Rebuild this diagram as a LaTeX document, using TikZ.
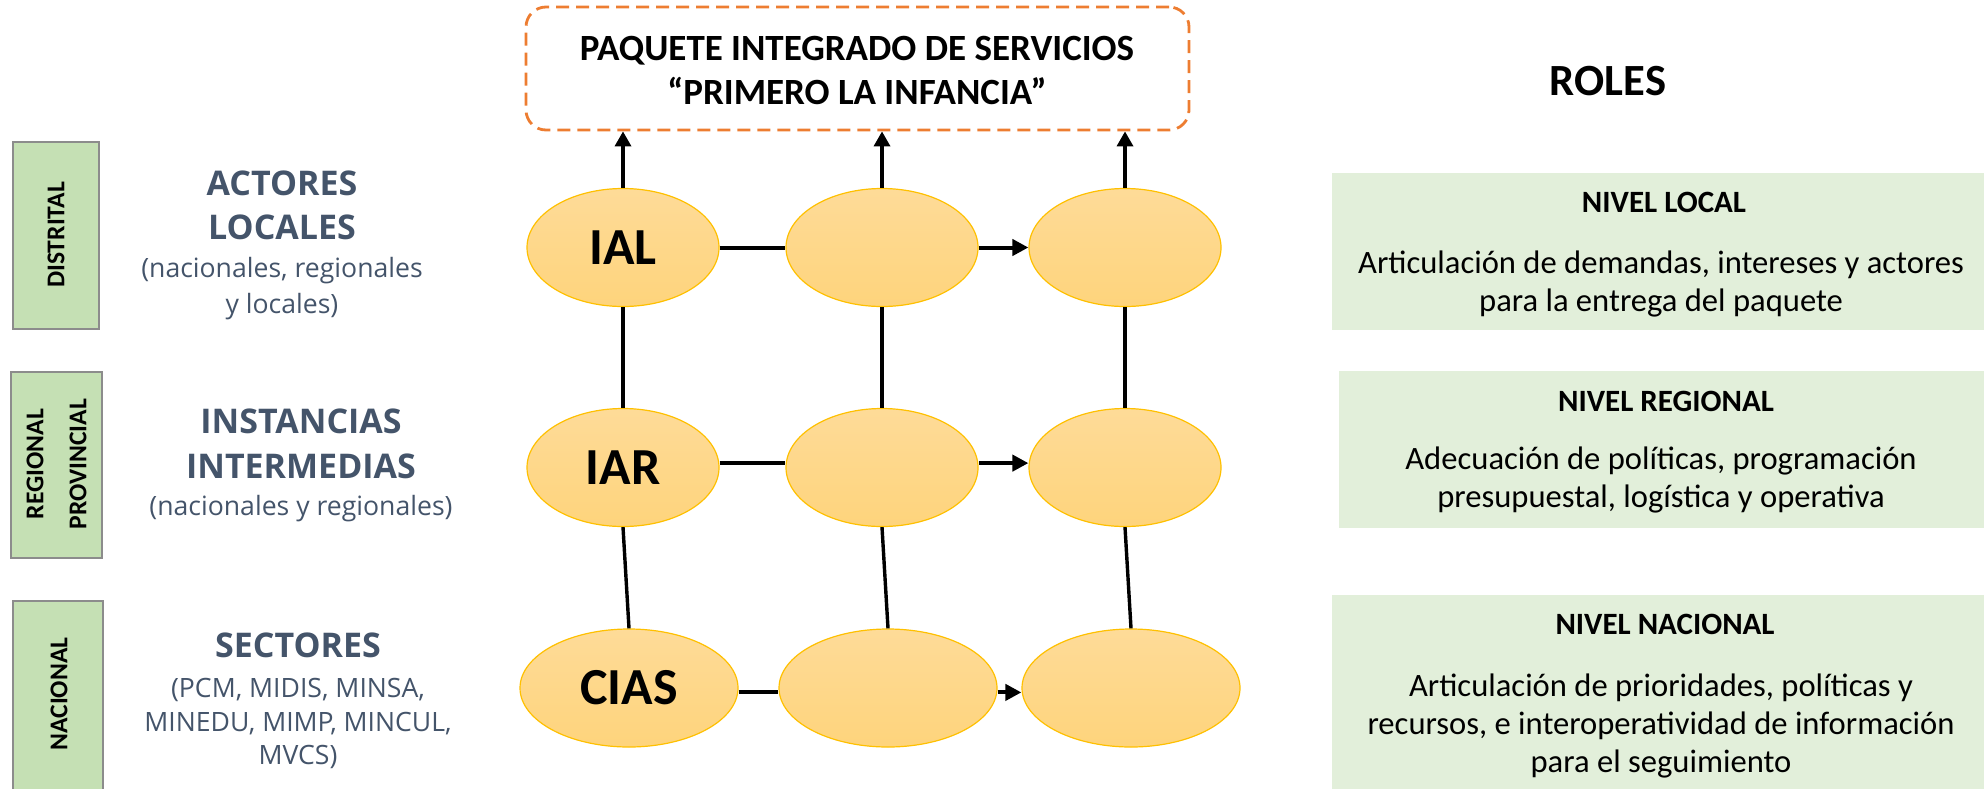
\documentclass[tikz,border=0pt]{standalone}
\usepackage{fontspec}
\setmainfont{Carlito}
\newfontfamily\osans{Open Sans}
\usetikzlibrary{shapes.geometric,arrows.meta}
\definecolor{slate}{HTML}{44546A}
\definecolor{lgreen}{HTML}{C5E0B4}
\definecolor{pgreen}{HTML}{E2EFDA}
\definecolor{orng}{HTML}{ED7D31}
\definecolor{ellb}{HTML}{FFC000}
\definecolor{elltop}{HTML}{FEDB98}
\definecolor{ellbot}{HTML}{FED47C}
\definecolor{lboxdraw}{HTML}{8C8C8C}
\begin{document}
\begin{tikzpicture}[x=0.5pt,y=-0.5pt,
  oval/.style={ellipse, draw=ellb, line width=0.6pt, top color=elltop, bottom color=ellbot,
    minimum width=96pt, minimum height=59pt, inner sep=0pt, font=\fontsize{26}{30}\selectfont\bfseries},
  wideoval/.style={oval, minimum width=109pt},
  conn/.style={line width=1.7pt},
  hconn/.style={line width=2pt},
  harrow/.style={hconn, -{Triangle[length=8pt,width=8pt]}},
  varrow/.style={conn, -{Triangle[length=7.5pt,width=8pt]}},
  levelbox/.style={draw=lboxdraw, line width=0.8pt, fill=lgreen},
  rolebox/.style={fill=pgreen},
  vlabel/.style={rotate=90, inner sep=0pt, font=\fontsize{12.8}{15}\selectfont\bfseries},
  acthead/.style={anchor=base, inner sep=0pt, text=slate, font=\osans\fontsize{17}{20}\selectfont\bfseries},
  actsub/.style={anchor=base, inner sep=0pt, text=slate, font=\osans\fontsize{13.3}{16}\selectfont},
  pkgbox/.style={draw=orng, line width=1.4pt, dash pattern=on 6.5pt off 3.5pt, rounded corners=10pt,
    minimum width=331.5pt, minimum height=61.5pt, inner sep=0pt},
  pkgtxt/.style={anchor=base, inner sep=0pt, font=\fontsize{18.5}{22}\selectfont\bfseries},
  rolehead/.style={anchor=base, inner sep=0pt, font=\fontsize{15.5}{18}\selectfont\bfseries},
  roletxt/.style={anchor=base, inner sep=0pt, font=\fontsize{16.3}{19}\selectfont},
  rolestitle/.style={anchor=base, inner sep=0pt, font=\fontsize{22.3}{26}\selectfont\bfseries}
]
\useasboundingbox (0,0) rectangle (1984,788);
\clip (0,0) rectangle (1984,788);

% left level boxes
\draw[levelbox] (13,142) rectangle (99,329);
\draw[levelbox] (11,372) rectangle (102,558);
\draw[levelbox] (13,601) rectangle (103,800);
\node[vlabel] (distrital) at (56,235) {DISTRITAL};
\node[vlabel] (regional) at (35,464) {REGIONAL};
\node[vlabel] (provincial) at (78,464) {PROVINCIAL};
\node[vlabel] (nacional) at (59,694) {NACIONAL};

% left actor texts
\node[acthead] (act1) at (282,195) {ACTORES};
\node[acthead] (act2) at (282,239) {LOCALES};
\node[actsub] (act3) at (282,277) {(nacionales, regionales};
\node[actsub] (act4) at (282,313) {y locales)};
\node[acthead] (ins1) at (301,433) {INSTANCIAS};
\node[acthead] (ins2) at (301,478) {INTERMEDIAS};
\node[actsub] (ins3) at (301,515) {(nacionales y regionales)};
\node[acthead] (sec1) at (298,657) {SECTORES};
\node[actsub] (sec2) at (298,697) {(PCM, MIDIS, MINSA,};
\node[actsub] (sec3) at (298,731) {MINEDU, MIMP, MINCUL,};
\node[actsub] (sec4) at (298,764) {MVCS)};

% package box
\node[pkgbox] (pkg) at (857.5,68.5) {};
\node[pkgtxt] (pkg1) at (857,60) {PAQUETE INTEGRADO DE SERVICIOS};
\node[pkgtxt] (pkg2) at (857,104) {“PRIMERO LA INFANCIA”};

% ellipses
\node[oval] (a1) at (623,247.5) {IAL};
\node[oval] (a2) at (882,247.5) {};
\node[oval] (a3) at (1125,247.5) {};
\node[oval] (b1) at (623,467.5) {IAR};
\node[oval] (b2) at (882,467.5) {};
\node[oval] (b3) at (1125,467.5) {};
\node[wideoval] (c1) at (629,688) {CIAS};
\node[wideoval] (c2) at (888,688) {};
\node[wideoval] (c3) at (1131,688) {};

% vertical arrows to package
\draw[varrow] (a1.north) -- (a1.north |- pkg.south);
\draw[varrow] (a2.north) -- (a2.north |- pkg.south);
\draw[varrow] (a3.north) -- (a3.north |- pkg.south);

% vertical links
\draw[conn] (a1.south) -- (b1.north);
\draw[conn] (a2.south) -- (b2.north);
\draw[conn] (a3.south) -- (b3.north);
\draw[conn] (b1.south) -- (c1.north);
\draw[conn] (b2.south) -- (c2.north);
\draw[conn] (b3.south) -- (c3.north);

% horizontal links
\draw[hconn] (a1.east) -- (a2.west);
\draw[harrow] (a2.east) -- (a3.west);
\draw[hconn] ([yshift=2.2pt]b1.east) -- ([yshift=2.2pt]b2.west);
\draw[harrow] ([yshift=2.2pt]b2.east) -- ([yshift=2.2pt]b3.west);
\draw[hconn] ([yshift=-2.2pt]c1.east) -- ([yshift=-2.2pt]c2.west);
\draw[harrow] ([yshift=-2.2pt]c2.east) -- ([yshift=-2.2pt]c3.west);

% roles
\node[rolestitle] (roles) at (1608,95) {ROLES};
\fill[rolebox] (1332,173) rectangle (1990,330);
\fill[rolebox] (1339,371) rectangle (1990,528);
\fill[rolebox] (1332,595) rectangle (1990,800);
\node[rolehead] (r1h) at (1664,212) {NIVEL LOCAL};
\node[roletxt] (r1a) at (1661,273) {Articulación de demandas, intereses y actores};
\node[roletxt] (r1b) at (1661,311) {para la entrega del paquete};
\node[rolehead] (r2h) at (1666,411) {NIVEL REGIONAL};
\node[roletxt] (r2a) at (1661,469) {Adecuación de políticas, programación};
\node[roletxt] (r2b) at (1661,507) {presupuestal, logística y operativa};
\node[rolehead] (r3h) at (1665,634) {NIVEL NACIONAL};
\node[roletxt] (r3a) at (1661,696) {Articulación de prioridades, políticas y};
\node[roletxt] (r3b) at (1661,734) {recursos, e interoperatividad de información};
\node[roletxt] (r3c) at (1661,772) {para el seguimiento};
\end{tikzpicture}
\end{document}
